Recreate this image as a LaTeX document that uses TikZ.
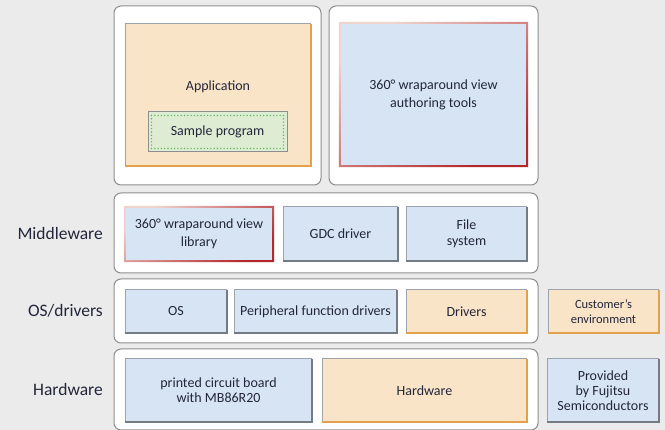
\documentclass[tikz,border=0pt]{standalone}
\usepackage{fontspec}
\setmainfont{Carlito}
\usetikzlibrary{calc}

\definecolor{pagebg}{HTML}{EBEBEB}
\definecolor{groupline}{HTML}{8E8E8E}
\definecolor{ink}{HTML}{23263A}
\definecolor{boxblue}{HTML}{D7E4F3}
\definecolor{boxpeach}{HTML}{F9E4C8}
\definecolor{boxgreen}{HTML}{DDECD3}
\definecolor{edgegray}{HTML}{9CA3AA}
\definecolor{edgedark}{HTML}{737B84}
\definecolor{edgeorange}{HTML}{E2A14A}
\definecolor{dotgreen}{HTML}{62BC5E}
\definecolor{redlight}{HTML}{EED3CF}
\definecolor{reddark}{HTML}{B3262A}

% frame with a light top/left edge and a darker bottom/right edge
\newcommand\twotoneframe[3]{%
  \draw[#2, line width=1pt] (#1.south west) -- (#1.north west) -- (#1.north east);
  \draw[#3, line width=1.3pt] (#1.north east) -- (#1.south east) -- (#1.south west);}
% frame shaded from pale at top left to deep red at bottom right
\newcommand\redframe[1]{%
  \shade[even odd rule, left color=reddark, right color=redlight, shading angle=-145]
    ($(#1.south west)+(-1.2pt,-1.2pt)$) rectangle ($(#1.north east)+(1.2pt,1.2pt)$)
    ($(#1.south west)+(0.9pt,0.9pt)$) rectangle ($(#1.north east)+(-0.9pt,-0.9pt)$);}

\begin{document}
\begin{tikzpicture}[x=1pt, y=-1pt,
  group/.style={draw=groupline, fill=white, rounded corners=7pt, line width=1pt,
    inner sep=0pt, outer sep=0pt},
  box/.style={inner sep=0pt, outer sep=0pt, align=center, text=ink,
    font=\fontsize{14}{18}\selectfont},
  bluebox/.style={box, fill=boxblue},
  peachbox/.style={box, fill=boxpeach},
  layerlabel/.style={anchor=east, text=ink, inner sep=0pt,
    font=\fontsize{17.5}{20}\selectfont},
  plaintext/.style={text=ink, inner sep=0pt, font=\fontsize{14}{18}\selectfont}]

\fill[pagebg] (0,0) rectangle (665,430);
\useasboundingbox (0,0) rectangle (665,430);

% layer groups
\node[group, minimum width=207pt, minimum height=179pt] (gapp) at (217.5,95.5) {};
\node[group, minimum width=209pt, minimum height=179pt] (gtool) at (433.5,95.5) {};
\node[group, minimum width=424pt, minimum height=80pt] (gmid) at (326,233) {};
\node[group, minimum width=424pt, minimum height=64pt] (gos) at (326,311) {};
\node[group, minimum width=424pt, minimum height=81pt] (ghw) at (326,389.5) {};

% layer labels
\node[layerlabel] (lmid) at (103,233) {Middleware};
\node[layerlabel] (los) at (103,311) {OS/drivers};
\node[layerlabel] (lhw) at (103,389) {Hardware};

% application layer
\node[peachbox, minimum width=186pt, minimum height=142pt] (app) at (218,95) {};
\twotoneframe{app}{edgegray}{edgeorange}
\node[plaintext] (apptext) at (218,87) {Application};
\node[box, fill=boxgreen, minimum width=139pt, minimum height=40pt] (sample) at (217.5,132) {Sample program};
\draw[groupline, line width=1pt] (sample.south west) rectangle (sample.north east);
\draw[dotgreen, line width=1.6pt, line cap=round, dash pattern=on 0pt off 3.3pt]
  ($(sample.south west)+(3.5pt,3.5pt)$) rectangle ($(sample.north east)+(-3.5pt,-3.5pt)$);

\node[bluebox, minimum width=187pt, minimum height=143pt] (tools) at (433.5,94.5)
  {360° wraparound view\\authoring tools};
\redframe{tools}

% middleware layer
\node[bluebox, minimum width=148pt, minimum height=54pt] (lib) at (199,234)
  {360° wraparound view\\library};
\redframe{lib}
\node[bluebox, minimum width=115pt, minimum height=54pt] (gdc) at (340.5,234) {GDC driver};
\twotoneframe{gdc}{edgegray}{edgedark}
\node[bluebox, minimum width=121pt, minimum height=54pt, font=\fontsize{14}{16}\selectfont]
  (fs) at (466.5,234) {File\\system};
\twotoneframe{fs}{edgegray}{edgedark}

% OS/drivers layer
\node[bluebox, minimum width=102pt, minimum height=43pt] (os) at (176,311.5) {OS};
\twotoneframe{os}{edgegray}{edgedark}
\node[bluebox, minimum width=163pt, minimum height=43pt] (periph) at (315.5,311.5)
  {Peripheral function drivers};
\twotoneframe{periph}{edgegray}{edgedark}
\node[peachbox, minimum width=121pt, minimum height=43pt] (drv) at (466.5,311.5) {Drivers};
\twotoneframe{drv}{edgegray}{edgeorange}

% hardware layer
\node[bluebox, minimum width=187pt, minimum height=63pt, font=\fontsize{14}{15}\selectfont]
  (pcb) at (218.5,390.5) {printed circuit board\\with MB86R20};
\twotoneframe{pcb}{edgegray}{edgedark}
\node[peachbox, minimum width=205pt, minimum height=63pt] (hw) at (424.5,390.5) {Hardware};
\twotoneframe{hw}{edgegray}{edgeorange}

% legend
\node[peachbox, minimum width=111pt, minimum height=43pt, font=\fontsize{12.5}{15}\selectfont]
  (cust) at (603.5,311.5) {Customer’s\\environment};
\twotoneframe{cust}{edgegray}{edgeorange}
\node[bluebox, minimum width=112pt, minimum height=63pt, font=\fontsize{14}{15}\selectfont]
  (prov) at (603,390.5) {Provided\\by Fujitsu\\Semiconductors};
\twotoneframe{prov}{edgegray}{edgedark}
\end{tikzpicture}
\end{document}
